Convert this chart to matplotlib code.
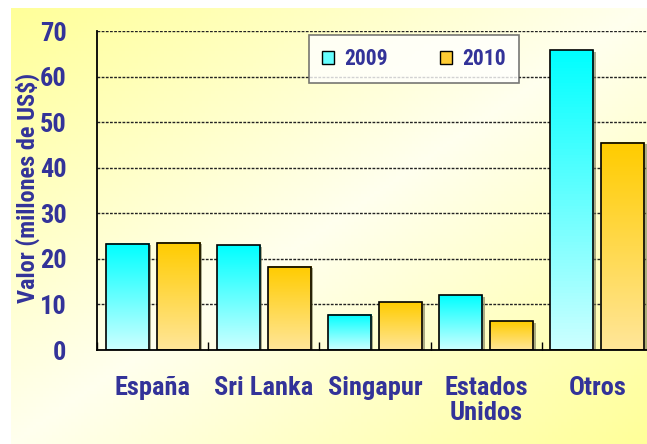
import numpy as np
import matplotlib
matplotlib.use("Agg")
import matplotlib.pyplot as plt
from matplotlib.patches import Rectangle, Patch
from matplotlib import font_manager
from matplotlib.transforms import offset_copy
from matplotlib.colors import LinearSegmentedColormap

categories = ['España', 'Sri Lanka', 'Singapur', 'Estados\nUnidos', 'Otros']
years = ['2009', '2010']
v2009 = [23.3, 23.0, 7.7, 12.0, 65.8]
v2010 = [23.5, 18.3, 10.5, 6.3, 45.5]
yticks = [0, 10, 20, 30, 40, 50, 60, 70]

BLUE = '#333399'

# pick a narrow font if one is there
narrow = None
for name in ['Liberation Sans Narrow', 'Arial Narrow', 'DejaVu Sans Condensed', 'Roboto Condensed']:
    try:
        font_manager.findfont(font_manager.FontProperties(family=name, weight='bold'),
                              fallback_to_default=False)
        narrow = name
        break
    except ValueError:
        pass
FONT = [narrow, 'DejaVu Sans'] if narrow else ['DejaVu Sans']
plt.rcParams['font.family'] = FONT
plt.rcParams['font.weight'] = 'bold'
plt.rcParams['font.stretch'] = 'condensed'

fig = plt.figure(figsize=(6.47, 4.44), dpi=100)

# gradient background (yellow corners, pale diagonal)
bg = fig.add_axes([11 / 647, 0, 1 - 11 / 647, 1 - 8 / 444], zorder=-10)
nx, ny = 200, 140
xx, yy = np.meshgrid(np.linspace(0, 1, nx), np.linspace(0, 1, ny))
d = np.abs((xx + yy) / 2 - 0.5) * 2
bgmap = LinearSegmentedColormap.from_list('bg', ['#FFFFEE', '#FFFF99'])
bg.imshow(d, cmap=bgmap, aspect='auto', extent=(0, 1, 0, 1), vmin=0, vmax=1)
bg.axis('off')

ax = fig.add_axes([97 / 647, 94 / 444, 556 / 647, 319 / 444])
ax.patch.set_alpha(0)

cyan_map = LinearSegmentedColormap.from_list('c', ['#CCFFFF', '#00FFFF'])
gold_map = LinearSegmentedColormap.from_list('g', ['#FFE699', '#FFCC00'])
grad = np.linspace(0, 1, 100).reshape(-1, 1)

width = 0.387
offset = 0.23
x = np.arange(len(categories))
shadow_tr = offset_copy(ax.transData, fig=fig, x=2.5, y=-1.5, units='dots')
for vals, cmap, dx in [(v2009, cyan_map, -offset), (v2010, gold_map, offset)]:
    for xi, v in zip(x, vals):
        x0 = xi + dx - width / 2
        ax.add_patch(Rectangle((x0, 0), width, v, facecolor='#777755', edgecolor='none',
                               alpha=0.6, zorder=2, transform=shadow_tr, clip_on=True))
        ax.imshow(grad, cmap=cmap, aspect='auto', origin='lower',
                  extent=(x0, x0 + width, 0, v), zorder=3, vmin=0, vmax=1)
        ax.add_patch(Rectangle((x0, 0), width, v, facecolor='none', edgecolor='black',
                               linewidth=1.2, zorder=4))
ax.set_xlim(-0.5, 4.5)
ax.set_ylim(0, 70)

for t in yticks[1:]:
    ax.axhline(t, color='#222222', linewidth=1, linestyle=(0, (2, 1)), zorder=1)

ax.set_yticks(yticks)
ax.set_yticklabels([str(t) for t in yticks], color=BLUE, fontsize=19, fontweight='bold')
ax.tick_params(axis='y', length=0, pad=22)
ax.set_xticks(np.arange(-0.5, 4.6, 1))
ax.set_xticklabels([])
ax.tick_params(axis='x', direction='in', length=6, width=1, color='black')
for xi, c in zip(x, categories):
    ax.text(xi, -5.8, c, ha='center', va='top', color=BLUE, fontsize=19,
            fontweight='bold', linespacing=1.05)

for s in ['top', 'right']:
    ax.spines[s].set_visible(False)
ax.spines['left'].set_linewidth(1.3)
ax.spines['bottom'].set_linewidth(1.3)
ax.spines['bottom'].set_zorder(5)

fig.text(28 / 647, 1 - 188 / 444, 'Valor (millones de US$)', rotation=90, ha='center',
         va='center', color=BLUE, fontsize=17.5, fontweight='bold')

handles = [Patch(facecolor='#66FFFF', edgecolor='black'),
           Patch(facecolor='#FFCC33', edgecolor='black')]
leg = fig.legend(handles, years, loc='center', bbox_to_anchor=(414 / 647, 1 - 59 / 444),
                 ncol=2, frameon=True, fancybox=False, edgecolor='#555555',
                 prop={'family': FONT, 'weight': 'bold', 'size': 15.5, 'stretch': 'condensed'},
                 handlelength=0.55, handleheight=0.55, handletextpad=0.5,
                 columnspacing=2.4, borderpad=0.6, borderaxespad=0)
for t in leg.get_texts():
    t.set_color(BLUE)
leg.get_frame().set_linewidth(1.2)
leg.set_zorder(10)

fig.savefig('out.png', dpi=100)
